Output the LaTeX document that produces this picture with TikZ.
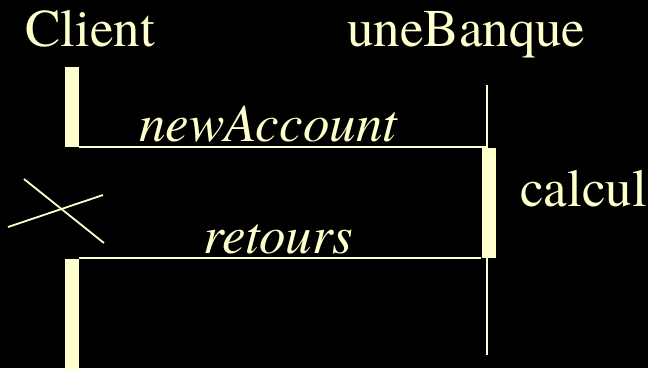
\documentclass[tikz,border=0pt]{standalone}
\usepackage{fontspec}
\setmainfont{texgyretermes}[Extension=.otf, UprightFont=*-regular, ItalicFont=*-italic]
\definecolor{cream}{RGB}{255,255,204}

\tikzset{
  bar/.style = {draw=none, fill=cream, minimum width=14pt, inner sep=0pt},
  msg/.style = {draw=cream, line width=2.5pt},
  life/.style = {draw=cream, line width=1.8pt},
  txt/.style = {text=cream, inner sep=0pt, anchor=base west, font=\rmfamily\fontsize{53}{60}\selectfont},
  itxt/.style = {txt, font=\rmfamily\fontsize{53}{60}\selectfont\itshape}
}

\begin{document}
\begin{tikzpicture}[x=1pt, y=-1pt]

\fill[black] (0,0) rectangle (648,368);
\useasboundingbox (0,0) rectangle (648,368);

% objects
\node[txt] (client) at (25,46) {Client};
\node[txt] (banque) at (347,46) {uneBanque};

% lifeline of the bank
\coordinate (btop) at (487,85);
\coordinate (bbot) at (487,355);
\draw[life] (btop) -- (bbot);

% activations
\node[bar, minimum height=80pt] (cbar1) at (72,107) {};
\node[bar, minimum height=110pt] (bbar) at (488.5,203) {};
\node[bar, minimum height=110pt] (cbar2) at (72,314) {};

% messages
\draw[msg] (cbar1.south east) -- (cbar1.south east -| btop);
\draw[msg] (bbar.south west) -- (bbar.south west -| cbar2.east);
\node[itxt] (newacc) at (139,141) {newAccount};
\node[itxt] (ret) at (203,253) {retours};
\node[txt] (calc) at (520,206) {calcul};

% destruction cross
\draw[life] (24,179) -- (104,243);
\draw[life] (8,227) -- (103,195);

\end{tikzpicture}
\end{document}
